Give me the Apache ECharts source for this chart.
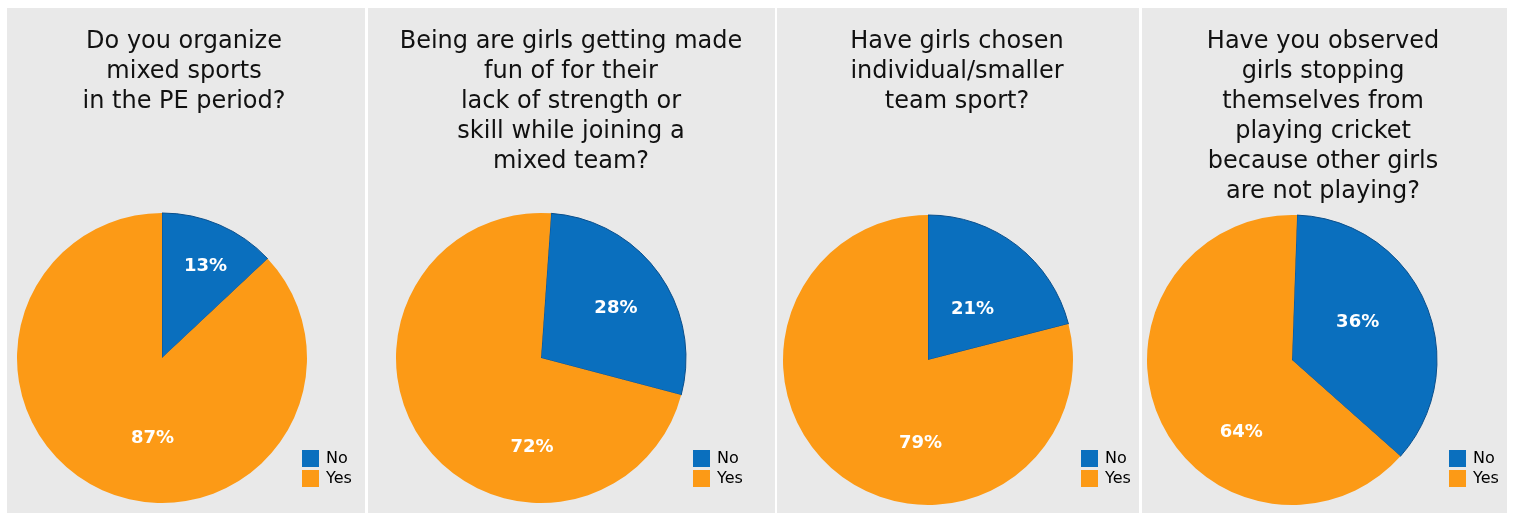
<!DOCTYPE html>
<html>
<head>
<meta charset="utf-8">
<script src="https://cdn.jsdelivr.net/npm/echarts@6/dist/echarts.min.js"></script>
<style>
  html, body { margin: 0; padding: 0; background: #ffffff; }
  #chart { width: 1513px; height: 513px; }
</style>
</head>
<body>
<div id="chart"></div>
<script>
const categories = ['No', 'Yes'];
const questions = [
  'Do you organize\nmixed sports\nin the PE period?',
  'Being are girls getting made\nfun of for their\nlack of strength or\nskill while joining a\nmixed team?',
  'Have girls chosen\nindividual/smaller\nteam sport?',
  'Have you observed\ngirls stopping\nthemselves from\nplaying cricket\nbecause other girls\nare not playing?'
];
const noValues = [13, 28, 21, 36];
const yesValues = [87, 72, 79, 64];

// layout (styles only)
const panels = [[7, 358], [368, 407], [777, 362], [1142, 365]];
const titleX = [179, 566, 952, 1318];
const centers = [[162, 358], [541, 358], [928, 360], [1292, 360]];
const startAngles = [90, 86, 90, 88];
const legendLeft = [302, 693, 1081, 1449];
const labelPush = 1.22;
// fine label nudges [series][category] = [dx, dy]
const labelNudge = [
  [[7, -7], [27, -4]],
  [[0, 4], [66, 36]],
  [[-12, 22], [49, 11]],
  [[-19, -1], [34, 36]]
];

const BLUE = '#0a6fbe';
const ORANGE = '#fc9a16';
const FONT = 'DejaVu Sans';

const chart = echarts.init(document.getElementById('chart'), null, { renderer: 'canvas' });

const option = {
  backgroundColor: '#ffffff',
  color: [BLUE, ORANGE],
  animation: false,
  graphic: panels.map(p => ({
    type: 'rect', z: -10, silent: true,
    shape: { x: p[0], y: 8, width: p[1], height: 510 },
    style: { fill: '#e9e9e9' }
  })),
  title: questions.map((q, i) => ({
    text: q,
    left: titleX[i],
    top: 22,
    textAlign: 'center',
    textStyle: { fontFamily: FONT, fontSize: 24, fontWeight: 'normal', color: '#111111', lineHeight: 30 }
  })),
  legend: legendLeft.map(l => ({
    data: categories,
    orient: 'vertical',
    left: l, top: 450,
    padding: 0,
    itemWidth: 17, itemHeight: 17, itemGap: 3,
    icon: 'rect',
    itemStyle: { borderWidth: 0 },
    textStyle: { fontFamily: FONT, fontSize: 16, color: '#000000', padding: [0, 0, 0, 2] }
  })),
  series: questions.map((q, i) => ({
    type: 'pie',
    center: centers[i],
    radius: 145,
    startAngle: startAngles[i],
    clockwise: true,
    label: {
      show: true, position: 'inside',
      formatter: '{c}%',
      color: '#ffffff', fontFamily: FONT, fontSize: 18, fontWeight: 'bold'
    },
    labelLine: { show: false },
    labelLayout: function (params) {
      const c = centers[params.seriesIndex];
      const n = labelNudge[params.seriesIndex][params.dataIndex];
      const r = params.labelRect;
      const lx = r.x + r.width / 2, ly = r.y + r.height / 2;
      return {
        dx: (lx - c[0]) * (labelPush - 1) + n[0],
        dy: (ly - c[1]) * (labelPush - 1) + n[1]
      };
    },
    emphasis: { disabled: true },
    data: categories.map((c, k) => ({
      name: c,
      value: k === 0 ? noValues[i] : yesValues[i],
      itemStyle: k === 0
        ? { color: BLUE, borderColor: '#0a4f8c', borderWidth: 1 }
        : { color: ORANGE, borderWidth: 0 }
    }))
  }))
};
chart.setOption(option);
</script>
</body>
</html>
